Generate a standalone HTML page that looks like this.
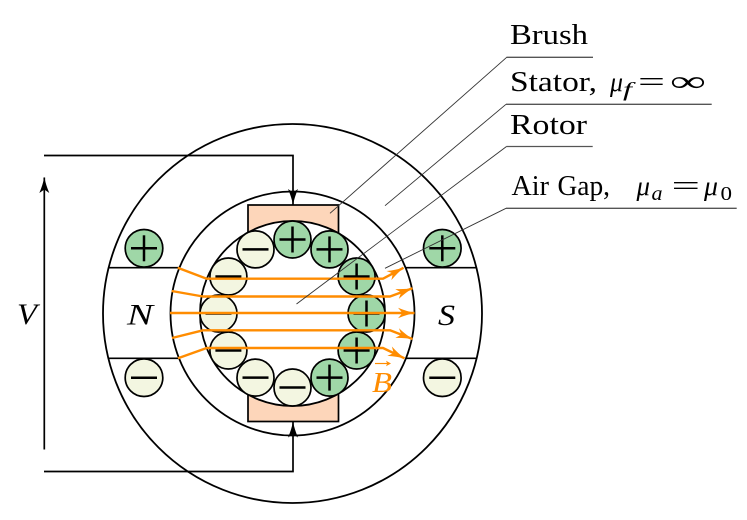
<!DOCTYPE html>
<html>
<head>
<meta charset="utf-8">
<style>
  html,body{margin:0;padding:0;background:#fff;}
  svg{display:block;}
  text{font-family:"Liberation Serif","DejaVu Serif",serif;fill:#000;}
  .it{font-style:italic;}
</style>
</head>
<body>
<svg width="747" height="520" viewBox="0 0 747 520" xmlns="http://www.w3.org/2000/svg">
  <defs>
    <marker id="oa" markerUnits="userSpaceOnUse" viewBox="0 0 17 11" refX="16.5" refY="5.5" markerWidth="17" markerHeight="11" orient="auto">
      <path d="M0,0.3 Q9,4 17,5.5 Q9,7 0,10.7 L4.5,5.5 Z" fill="#ff8c00"/>
    </marker>
    <marker id="ba" markerUnits="userSpaceOnUse" viewBox="0 0 16 11" refX="15.5" refY="5.5" markerWidth="16" markerHeight="11" orient="auto">
      <path d="M0,0.5 Q8,4 16,5.5 Q8,7 0,10.5 L3.5,5.5 Z" fill="#000"/>
    </marker>
  </defs>

  <!-- outer stator circle -->
  <circle cx="292.5" cy="313.5" r="189.5" fill="#fff" stroke="#000" stroke-width="1.8"/>

  <!-- pole faces -->
  <g stroke="#000" stroke-width="1.6">
    <line x1="108.6" y1="267.7" x2="179.4" y2="267.7"/>
    <line x1="108.4" y1="358.3" x2="179" y2="358.3"/>
    <line x1="405.6" y1="267.7" x2="476.4" y2="267.7"/>
    <line x1="406" y1="358.3" x2="476.6" y2="358.3"/>
  </g>

  <!-- stator coils -->
  <g stroke="#000" stroke-width="1.7">
    <circle cx="144" cy="248.3" r="18.8" fill="#9fd7a7"/>
    <circle cx="144" cy="377.7" r="18.8" fill="#f3f6e1"/>
    <circle cx="442.3" cy="248.3" r="18.8" fill="#9fd7a7"/>
    <circle cx="442.3" cy="377.7" r="18.8" fill="#f3f6e1"/>
  </g>
  <g stroke="#000" stroke-width="2.5">
    <line x1="131" y1="248.3" x2="157" y2="248.3"/><line x1="144" y1="235.3" x2="144" y2="261.3"/>
    <line x1="131" y1="377.7" x2="157" y2="377.7"/>
    <line x1="429.3" y1="248.3" x2="455.3" y2="248.3"/><line x1="442.3" y1="235.3" x2="442.3" y2="261.3"/>
    <line x1="429.3" y1="377.7" x2="455.3" y2="377.7"/>
  </g>

  <!-- air gap outer circle -->
  <circle cx="292.5" cy="313.5" r="122" fill="#fff" stroke="#000" stroke-width="1.8"/>

  <!-- brushes -->
  <rect x="248" y="205" width="90.5" height="216.5" fill="#fdd6ba" stroke="#000" stroke-width="1.7"/>

  <!-- rotor -->
  <circle cx="292.5" cy="313.5" r="92.5" fill="#fff" stroke="#000" stroke-width="1.8"/>

  <!-- rotor coils -->
  <g stroke="#000" stroke-width="1.7">
    <circle cx="366.5" cy="313.5" r="18.5" fill="#9fd7a7"/>
    <circle cx="356.6" cy="276.5" r="18.5" fill="#9fd7a7"/>
    <circle cx="329.5" cy="249.4" r="18.5" fill="#9fd7a7"/>
    <circle cx="292.5" cy="239.5" r="18.5" fill="#9fd7a7"/>
    <circle cx="255.5" cy="249.4" r="18.5" fill="#f3f6e1"/>
    <circle cx="228.4" cy="276.5" r="18.5" fill="#f3f6e1"/>
    <circle cx="218.5" cy="313.5" r="18.5" fill="#f3f6e1"/>
    <circle cx="228.4" cy="350.5" r="18.5" fill="#f3f6e1"/>
    <circle cx="255.5" cy="377.6" r="18.5" fill="#f3f6e1"/>
    <circle cx="292.5" cy="387.5" r="18.5" fill="#f3f6e1"/>
    <circle cx="329.5" cy="377.6" r="18.5" fill="#9fd7a7"/>
    <circle cx="356.6" cy="350.5" r="18.5" fill="#9fd7a7"/>
  </g>
  <g stroke="#000" stroke-width="2.5">
    <!-- plus -->
    <line x1="353.5" y1="313.5" x2="379.5" y2="313.5"/><line x1="366.5" y1="300.5" x2="366.5" y2="326.5"/>
    <line x1="343.6" y1="276.5" x2="369.6" y2="276.5"/><line x1="356.6" y1="263.5" x2="356.6" y2="289.5"/>
    <line x1="316.5" y1="249.4" x2="342.5" y2="249.4"/><line x1="329.5" y1="236.4" x2="329.5" y2="262.4"/>
    <line x1="279.5" y1="239.5" x2="305.5" y2="239.5"/><line x1="292.5" y1="226.5" x2="292.5" y2="252.5"/>
    <line x1="316.5" y1="377.6" x2="342.5" y2="377.6"/><line x1="329.5" y1="364.6" x2="329.5" y2="390.6"/>
    <line x1="343.6" y1="350.5" x2="369.6" y2="350.5"/><line x1="356.6" y1="337.5" x2="356.6" y2="363.5"/>
    <!-- minus -->
    <line x1="242.5" y1="249.4" x2="268.5" y2="249.4"/>
    <line x1="215.4" y1="276.5" x2="241.4" y2="276.5"/>
    <line x1="205.5" y1="313.5" x2="231.5" y2="313.5"/>
    <line x1="215.4" y1="350.5" x2="241.4" y2="350.5"/>
    <line x1="242.5" y1="377.6" x2="268.5" y2="377.6"/>
    <line x1="279.5" y1="387.5" x2="305.5" y2="387.5"/>
  </g>

  <!-- flux lines -->
  <g fill="none" stroke="#ff8c00" stroke-width="2.4" stroke-linejoin="round" marker-end="url(#oa)">
    <path d="M177.7,267.7 L206.7,278.7 H383 L403.5,267.8"/>
    <path d="M171.7,291 L203,296.5 H390 L412.5,288.3"/>
    <path d="M170,313 H414.5"/>
    <path d="M172,338 L203,330.3 H390 L412.5,339"/>
    <path d="M178,358.3 L206.7,348 H383 L404.5,358.3"/>
  </g>

  <!-- B vector label -->
  <text x="372" y="392" font-size="28" class="it" style="fill:#ff8c00" textLength="20" lengthAdjust="spacingAndGlyphs">B</text>
  <line x1="375" y1="363.5" x2="388" y2="363.5" stroke="#ff8c00" stroke-width="1.2"/>
  <path d="M391,363.5 L386,360.8 L387.2,363.5 L386,366.2 Z" fill="#ff8c00"/>

  <!-- leader lines -->
  <g fill="none" stroke="#333" stroke-width="0.9">
    <path d="M330,213.3 L506.7,57.3"/>
    <path d="M385,205.7 L506,104.3"/>
    <path d="M296.5,304 L506.5,146.5"/>
    <path d="M385,268.3 L506,208.3"/>
  </g>
  <g stroke="#555" stroke-width="1.3">
    <line x1="506.5" y1="57.3" x2="593" y2="57.3"/>
    <line x1="506" y1="104.3" x2="711.7" y2="104.3"/>
    <line x1="506.5" y1="146.5" x2="592.7" y2="146.5"/>
    <line x1="506" y1="208.3" x2="736.7" y2="208.3"/>
  </g>

  <!-- wires -->
  <g fill="none" stroke="#000" stroke-width="1.7">
    <path d="M44,155.5 H293 V204.5" marker-end="url(#ba)"/>
    <path d="M44,471.5 H293 V422" marker-end="url(#ba)"/>
    <path d="M44.3,449.5 V177.5" marker-end="url(#ba)"/>
  </g>

  <!-- labels -->
  <text x="17" y="324" font-size="30" class="it" textLength="20" lengthAdjust="spacingAndGlyphs">V</text>
  <text x="127" y="324.5" font-size="30" class="it" textLength="26" lengthAdjust="spacingAndGlyphs">N</text>
  <text x="438" y="325" font-size="30" class="it" textLength="17" lengthAdjust="spacingAndGlyphs">S</text>

  <text x="510" y="44" font-size="29" textLength="78" lengthAdjust="spacingAndGlyphs">Brush</text>

  <text x="510" y="91" font-size="29" textLength="87" lengthAdjust="spacingAndGlyphs">Stator,</text>
  <text x="610" y="91" font-size="27" class="it" textLength="13" lengthAdjust="spacingAndGlyphs" style="font-family:'Liberation Serif','DejaVu Serif',serif">μ</text>
  <text x="623" y="96" font-size="20" class="it" textLength="9" lengthAdjust="spacingAndGlyphs">f</text>
  <text x="638" y="91" font-size="29" textLength="27" lengthAdjust="spacingAndGlyphs">=</text>
  <text x="670" y="91" font-size="29" textLength="36" lengthAdjust="spacingAndGlyphs">∞</text>

  <text x="510" y="134" font-size="29" textLength="77" lengthAdjust="spacingAndGlyphs">Rotor</text>

  <text x="511.5" y="195" font-size="29" textLength="37.5" lengthAdjust="spacingAndGlyphs">Air</text>
  <text x="557.5" y="195" font-size="29" textLength="52.5" lengthAdjust="spacingAndGlyphs">Gap,</text>
  <text x="636.5" y="195" font-size="27" class="it" textLength="13.5" lengthAdjust="spacingAndGlyphs">μ</text>
  <text x="651.5" y="200" font-size="20" class="it" textLength="11" lengthAdjust="spacingAndGlyphs">a</text>
  <text x="671.5" y="195" font-size="29" textLength="28.5" lengthAdjust="spacingAndGlyphs">=</text>
  <text x="704" y="195" font-size="27" class="it" textLength="14" lengthAdjust="spacingAndGlyphs">μ</text>
  <text x="720.5" y="200" font-size="20" textLength="11.5" lengthAdjust="spacingAndGlyphs">0</text>
</svg>
</body>
</html>
